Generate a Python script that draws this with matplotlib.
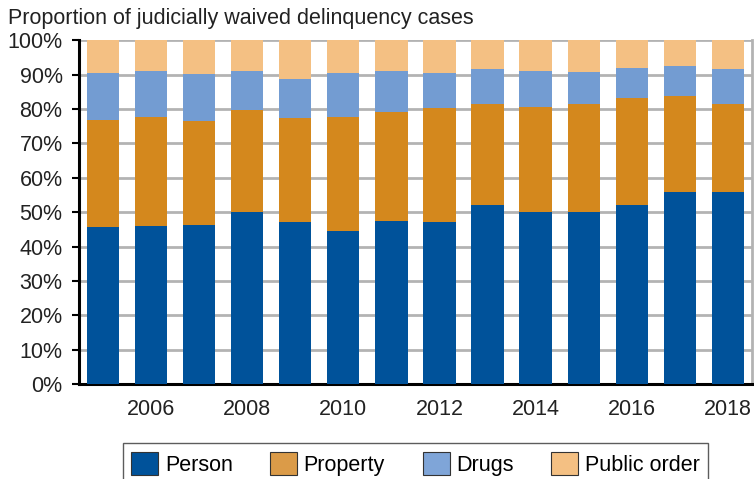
import matplotlib

matplotlib.use("Agg")
import matplotlib.pyplot as plt
import numpy as np

plt.rcParams["font.family"] = ["Liberation Sans", "DejaVu Sans"]

YEARS = list(range(2005, 2019))
# Cumulative boundaries (percent) read as stacked tops
PERSON = [45.7, 46.0, 46.3, 50.1, 47.2, 44.6, 47.5, 47.2, 52.2, 50.1, 50.1, 52.2, 56.0, 56.0]
PROPERTY_TOP = [76.8, 77.8, 76.4, 79.8, 77.5, 77.8, 79.1, 80.3, 81.5, 80.5, 81.5, 83.2, 83.8, 81.6]
DRUGS_TOP = [90.4, 91.2, 90.1, 91.2, 88.6, 90.4, 91.0, 90.4, 91.5, 91.0, 90.7, 91.8, 92.4, 91.5]

SERIES = ["Person", "Property", "Drugs", "Public order"]
COLORS = ["#00529A", "#D4881D", "#739CD2", "#F4C083"]
LEGEND_COLORS = ["#00529A", "#DB9B48", "#7FA5D8", "#F4C083"]

person = np.array(PERSON)
prop = np.array(PROPERTY_TOP) - person
drugs = np.array(DRUGS_TOP) - np.array(PROPERTY_TOP)
public = 100 - np.array(DRUGS_TOP)
shares = [person, prop, drugs, public]

FS = 15.5

fig = plt.figure(figsize=(7.54, 4.79), dpi=100)
ax = fig.add_axes([0.105, 0.198, 0.892, 0.718])

x = np.arange(len(YEARS))
bottom = np.zeros(len(YEARS))
for vals, color in zip(shares, COLORS):
    ax.bar(x, vals, width=0.67, bottom=bottom, color=color, zorder=3)
    bottom += vals

ax.set_xlim(-0.5, len(YEARS) - 0.5)
ax.set_ylim(0, 100)
ax.set_yticks(range(0, 101, 10))
ax.set_yticklabels([f"{v}%" for v in range(0, 101, 10)], fontsize=FS, color="#222222")
ax.set_xticks(x[1::2])
ax.set_xticklabels([str(y) for y in YEARS[1::2]], fontsize=FS, color="#222222")
ax.tick_params(axis="x", length=0, pad=11)
ax.tick_params(axis="y", length=5, width=1.5, direction="out", pad=7)

ax.grid(axis="y", color="#B3B3B3", linewidth=2, zorder=0)
ax.spines["top"].set_visible(False)
ax.spines["right"].set_color("#B3B3B3")
ax.spines["right"].set_linewidth(2)
ax.spines["left"].set_linewidth(2.2)
ax.spines["bottom"].set_linewidth(2.2)

fig.text(0.011, 0.962, "Proportion of judicially waived delinquency cases",
         fontsize=FS, color="#222222", va="center")

handles = [plt.Rectangle((0, 0), 1, 1, facecolor=c, edgecolor="#333333", linewidth=0.8)
           for c in LEGEND_COLORS]
leg = fig.legend(handles, SERIES, loc="upper center", bbox_to_anchor=(0.551, 0.097),
                 ncol=4, fontsize=FS, frameon=True, fancybox=False,
                 handlelength=1.25, handleheight=1.25, handletextpad=0.3,
                 columnspacing=1.75, borderpad=0.4)
leg.get_frame().set_edgecolor("#333333")
leg.get_frame().set_linewidth(1.0)

fig.savefig("out.png", dpi=100)
